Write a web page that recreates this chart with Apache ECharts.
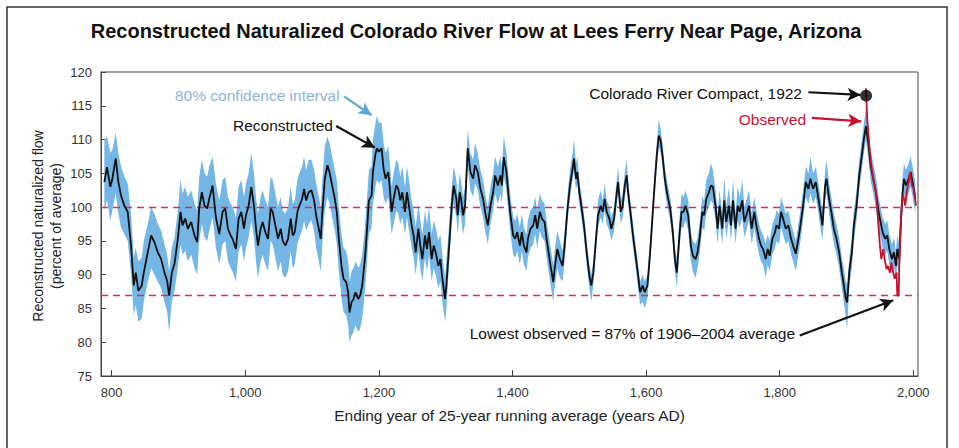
<!DOCTYPE html>
<html>
<head>
<meta charset="utf-8">
<script src="https://cdn.jsdelivr.net/npm/echarts@6/dist/echarts.min.js"></script>
<style>
  html, body { margin: 0; background: #fff; }
  #chart { width: 959px; height: 448px; }
</style>
</head>
<body>
<div id="chart"></div>
<script>
// [ending year, reconstructed %, 80% CI low, 80% CI high]
const reconstructed = [
  [789,103.7,99.5,110],[793,105.9,101,110.5],[798,103,98,108],[801,104.2,99.5,108.5],[806,107.2,102,111],
  [810,103.7,99,108],[814,101.7,97,106],[819,100.2,96,104.5],[824,99.3,95,103.5],[829,94.3,90,99],
  [833,88.4,84,92.5],[836,90.3,85.5,94],[840,87.6,83,92],[845,88.4,83.5,92.5],[848,90.3,86,95],
  [854,93.3,89,97.5],[859,95.8,91,100],[864,94.8,90,99],[869,93.3,89,97.5],[874,92.3,88,96.5],
  [879,90.3,86,94.5],[883,89.1,84.5,93],[886,86.9,81.5,90.5],[890,90.3,86,94],[894,91.6,87.5,95.5],
  [899,95.3,91,99.5],[903,99.3,94.5,104],[906,97.3,93,102],[910,98.3,93.5,103],[914,96.8,92,101.5],
  [919,97.8,93,102.5],[924,95.8,91,100.5],[928,94.8,90,99.5],[931,99.8,95,104.5],[935,102.2,97.5,107],
  [939,100.2,95.5,105],[943,99.8,95,104.5],[946,101.2,96.5,106],[951,103.2,98.5,107.5],[956,98.5,94,103.5],
  [961,96,91.5,101],[966,99.3,94.5,104],[970,99.8,95,104.5],[974,96.8,92,101.5],[978,95.8,91,100.5],
  [981,95.3,90.5,100],[986,93.8,89,98.5],[990,98.3,93.5,103],[994,99.3,94.5,104],[998,96.8,92,101.5],
  [1001,98.8,94,103.5],[1005,100.2,95.5,105],[1009,103,98,108],[1013,100.2,95.5,105],[1016,96.8,92,101.5],
  [1019,94.3,89.5,99],[1023,96.8,92,101.5],[1026,97.8,93,102.5],[1030,96.3,91.5,101],[1034,95.3,90.5,100],
  [1038,99.8,95,104.5],[1041,99.3,94.5,104],[1045,97.3,92.5,102],[1049,95.3,90.5,100],[1053,96.8,92,101.5],
  [1056,95,90,99.5],[1060,94.3,89.5,99],[1064,95.3,90.5,100],[1068,98.3,93.5,103],[1071,95.8,91,100.5],
  [1074,96.3,91.5,101],[1078,99.3,94.5,104],[1081,100.2,95.5,105],[1085,101.2,96.5,106],[1088,102.7,98,107.5],
  [1091,101,96.5,105.5],[1095,102.2,97.5,107],[1099,102.5,98,107],[1103,101,96.5,105.5],[1106,98.8,94,103.5],
  [1110,96.8,92,101.5],[1113,95.3,90.5,100],[1115,98.8,94,103.5],[1119,104.2,99.5,109],[1123,106.2,101.5,110.5],
  [1126,105.2,100.5,109.5],[1130,103.2,98.5,107.5],[1134,101.2,96.5,105.5],[1137,99.3,94.5,104],[1140,95.3,90.5,100],
  [1144,91.3,86.5,96],[1147,89.4,84.5,94],[1151,88.9,84,93.5],[1154,87.4,82.5,92],[1156,84.4,80,89],
  [1159,85.9,81,90.5],[1162,86.4,81.5,91],[1165,87.4,82.5,92],[1169,86.4,81.5,91],[1172,86.9,82,91.5],
  [1175,88.4,83.5,93],[1179,92.3,87.5,97],[1182,96.3,91.5,101],[1185,101,96,105.5],[1189,101.7,97,106],
  [1191,105.2,100.5,110],[1195,107.9,103,112.5],[1197,108.7,104,113.5],[1200,108.2,103.5,112.5],[1204,108.7,104,112.5],
  [1207,105.7,101.5,109.5],[1210,104.2,100.5,108],[1214,105.2,101.5,109],[1216,103.2,99.5,107],[1219,99.3,96,103],
  [1222,101.2,97.5,105],[1226,103.2,99.5,107],[1229,102.7,99,106.5],[1232,101,97.5,104.5],[1235,102.2,98.5,106],
  [1239,99.3,96,103],[1242,102.2,98.5,106],[1245,100.2,96.5,104],[1249,97.3,94,101],[1252,95.8,92.5,99.5],
  [1255,93.3,90,97],[1259,96.8,93.5,100.5],[1262,94.3,91,98],[1265,92.3,89,96],[1269,95.8,92.5,99.5],
  [1272,93.8,90.5,97.5],[1275,96.3,93,100],[1279,92.3,89,96],[1282,94.3,91,98],[1285,93.3,90,97],
  [1289,91.3,88,95],[1292,92.3,89,96],[1295,89.4,86,93],[1299,86.4,83,89.5],[1301,88.4,85,92],
  [1306,95.5,93,98.5],[1309,100.2,97.5,103],[1312,103.2,100.5,106],[1316,101.2,98.5,104],[1318,98.8,96,101.5],
  [1321,102.2,99.5,105],[1323,101.2,98.5,104],[1326,98.8,96,101.5],[1329,100.2,97.5,103],[1333,108.7,106,111.5],
  [1337,105.2,102.5,108],[1341,104.2,101.5,107],[1344,106.2,103.5,109.5],[1348,105.2,102.5,108],[1352,102.7,100,105.5],
  [1356,101.2,98.5,104],[1359,99.3,96.5,102],[1363,97.3,94.5,100],[1367,100.2,97.5,103],[1371,102.2,99.5,105],
  [1374,104.7,102,107.5],[1378,103.2,100.5,106],[1382,104.7,102,107.5],[1384,103.2,100.5,106],[1387,107.4,104.5,110.5],
  [1391,105.2,102.5,108],[1394,101.7,99,104.5],[1397,98.8,96,101.5],[1401,95.8,93,98.5],[1404,95.3,92.5,98],
  [1407,96.3,93.5,99],[1411,94.3,91.5,97],[1414,96.3,93.5,99],[1417,94.3,91.5,97],[1421,93.3,90.5,96],
  [1423,95.3,92.5,98],[1427,96.8,94,99.5],[1431,97.3,94.5,100],[1434,98.8,96,101.5],[1437,96.8,94,99.5],
  [1441,99.3,96.5,102],[1444,98.3,95.5,101],[1448,97.8,95,100.5],[1451,95.3,92.5,98],[1454,93.3,90.5,96],
  [1457,91.3,88.5,94],[1461,88.9,86,91.5],[1463,90.8,88,93.5],[1467,93.8,91,96.5],[1471,92.3,89.5,95],
  [1475,91.3,89,93.5],[1478,94.3,92,96.5],[1482,99.3,97.5,101.5],[1486,103.2,101.5,105.5],[1490,105.7,104,108],
  [1492,107.2,105.5,110],[1495,104.2,102.5,106.5],[1497,105.2,103.5,107.5],[1500,102.2,100.5,104],[1503,100.2,98.5,102],
  [1507,97.3,95.5,99],[1511,93.3,91.5,95],[1515,89.9,88,91.5],[1518,88.4,86,90],[1521,90.3,88.5,92],
  [1525,95.3,93.5,97],[1528,98.8,97,101],[1532,100.2,98.5,102.5],[1535,99.3,97.5,101],[1538,101.2,99.5,103.5],
  [1541,99.3,97.5,101],[1545,98.3,96.5,100],[1548,96.8,95,98.5],[1552,98.3,96.5,100],[1555,101.2,99.5,103],
  [1558,103.7,102,106],[1562,99.3,97.5,101],[1565,100.2,98.5,102],[1568,103.2,101.5,105],[1571,104.7,103,107],
  [1573,102.2,100.5,104],[1577,98.8,97,100.5],[1581,95.3,93.5,97],[1585,92.3,90.5,94],[1588,89.9,88,91.5],
  [1591,87.4,85.5,89],[1595,88.4,86,90],[1598,87.4,85,89],[1602,88.4,86.5,90],[1606,93.3,91.5,95],
  [1610,99.3,97.5,101],[1613,103.7,102,105.5],[1616,107.7,106,109.5],[1619,110.6,109,113],[1622,109.7,108,111.5],
  [1625,107.2,105.5,109],[1628,104.2,102.5,106],[1632,101.7,100,103.5],[1636,99.8,98,101.5],[1640,96.3,94.5,98],
  [1643,92.3,90.5,94],[1646,90.3,88,92.5],[1650,96,94,98.5],[1653,99.3,97,102],[1656,99.3,97,101.5],
  [1659,100.2,98,102.5],[1663,98.8,96.5,101],[1667,94.3,92,96.5],[1670,92.8,90.5,95],[1674,92.3,89.5,94.5],
  [1677,93.3,91,95.5],[1680,95.3,93,97.5],[1684,99.3,97,101.5],[1687,98.8,96.5,101],[1690,101.2,99,104],
  [1694,102.2,100,105],[1697,103.2,101,106.5],[1700,103,100.5,105.5],[1704,100.2,98,102.5],[1707,96.8,94.5,99],
  [1710,100.2,98,102.5],[1714,96.8,94.5,99],[1717,101,98.5,104.5],[1720,97.8,95.5,100],[1724,100.2,98,103],
  [1727,97.3,95,99.5],[1730,101,98.5,104],[1734,96.8,94.5,99],[1737,100.2,98,103],[1740,99.3,97,101.5],
  [1744,101,98.5,104],[1747,97.8,95.5,100],[1750,98.8,96.5,101],[1754,100.2,98,102.5],[1758,96.8,94.5,99],
  [1762,99.3,97,101.5],[1765,97.3,95,99.5],[1769,95.3,93,97.5],[1772,94.3,92,96.5],[1775,93.8,91.5,96],
  [1779,92.3,89.5,94.5],[1782,93.8,91.5,96],[1785,92.8,90.5,95],[1789,95.3,93,97.5],[1793,96.3,94,98.5],
  [1795,97.3,95,99.5],[1799,96.8,94.5,99],[1802,99.3,97,101.5],[1805,98.3,96,100.5],[1809,96.8,94.5,99],
  [1813,97.3,95,99.5],[1817,95.3,93,97.5],[1820,94.3,92,96.5],[1824,93.1,90.5,95],[1828,95.3,93,97.5],
  [1831,97.3,95,99.5],[1835,100.2,98,102.5],[1839,103.7,101.5,106],[1843,102.7,100.5,105],[1846,104.2,102,107.5],
  [1850,102.7,100.5,105],[1854,103.7,101.5,106],[1858,101.2,99,103.5],[1861,99.3,97,101.5],[1864,97.3,95,99.5],
  [1868,103.2,101,105.5],[1870,104.2,102,107],[1874,101.2,99,103.5],[1878,98.8,96.5,101],[1881,96.8,94.5,99],
  [1885,95.3,93,97.5],[1889,93.3,91,95.5],[1893,90.3,88,92.5],[1896,88.4,86,91],[1899,86.4,83.5,89],
  [1901,85.9,82,88.5],[1904,90.3,88,92.5],[1908,93.3,91,95.5],[1911,97.3,95,99.5],[1915,100.2,98,102.5],
  [1919,104.7,102.5,107],[1923,107.7,105.5,110],[1926,110.1,108,112.5],[1929,112,110,114.5],[1933,109.2,107,111.5],
  [1936,106.2,104,108.5],[1940,104.2,102,106.5],[1944,102.2,100,104.5],[1948,99.3,97,101.5],[1951,97.8,95.5,100],
  [1954,96.3,94,98.5],[1958,95.3,93,97.5],[1961,95.8,93.5,98],[1964,93.8,91.5,96],[1968,92.3,90,94.5],
  [1971,93.3,91,95.5],[1974,91.3,89,93.5],[1976,93.8,91.5,96],[1979,92.3,90,94.5],[1981,97.3,95,99.5],
  [1984,102.2,100,104.5],[1986,104.2,102,106.5],[1989,103.2,101,105.5],[1993,104.2,102,106.5],[1996,105.2,103,107.5],
  [1999,103.7,101.5,106],[2003,101.2,99,103.5]
];

// gauged record, 25-yr running average
const observed = [
  [1929,117.6],[1931,113.1],[1934,109.2],[1937,106.2],[1941,103.7],[1944,102.2],[1947,98.3],[1950,94.3],
  [1952,92.3],[1955,93.8],[1957,92.3],[1960,90.8],[1962,91.3],[1965,90.3],[1967,91.8],[1970,90.3],
  [1972,89.4],[1975,90.3],[1976,86.9],[1978,86.9],[1979,91.3],[1981,96.3],[1983,101.2],[1985,101.7],
  [1988,100.2],[1990,102.2],[1993,103.7],[1995,105.2],[1998,103.2],[2001,102.7],[2004,100.2]
];

const compactPoint = [1929.3, 116.5];
const referenceLevels = [100, 87];
const yearTicks = [800, 1000, 1200, 1400, 1600, 1800, 2000];

// annotation arrows: [from, to, colour]
const arrows = [
  [[1148, 116.4], [1189, 113.6], '#5ea7d8'],
  [[1136, 112.0], [1194, 108.8], '#111111'],
  [[1843, 117.0], [1921, 116.6], '#111111'],
  [[1848, 113.2], [1922, 112.7], '#c4122f'],
  [[1830, 81.0], [1970, 86.2], '#111111']
];

const FONT = '"Liberation Sans", Arial, sans-serif';
const BAND = '#74b6e5';
const RED = '#c4122f';

const chart = echarts.init(document.getElementById('chart'), null, { renderer: 'svg' });

const txt = (text, x, y, align, color, extra) => ({
  type: 'text', x, y, z: 100, silent: true,
  style: Object.assign({ text, fill: color || '#111', font: '15.5px ' + FONT,
    textAlign: align || 'left', textVerticalAlign: 'middle' }, extra || {})
});

chart.setOption({
  animation: false,
  grid: { left: 101, right: 41, top: 72, bottom: 72, show: true, borderColor: '#444', borderWidth: 1 },
  xAxis: {
    type: 'value', min: 784, max: 2007,
    axisLine: { lineStyle: { color: '#444' } },
    axisTick: { inside: true, length: 6, customValues: yearTicks, lineStyle: { color: '#444' } },
    axisLabel: { customValues: yearTicks, color: '#333', fontSize: 13, fontFamily: FONT, margin: 10,
      formatter: v => v.toLocaleString('en-US') },
    splitLine: { show: false },
    name: 'Ending year of 25-year running average (years AD)',
    nameLocation: 'middle', nameGap: 31,
    nameTextStyle: { color: '#222', fontSize: 15.5, fontFamily: FONT }
  },
  yAxis: {
    type: 'value', min: 75, max: 120, interval: 5,
    axisLine: { show: true, lineStyle: { color: '#444' } },
    axisTick: { inside: true, length: 5, lineStyle: { color: '#444' } },
    axisLabel: { color: '#333', fontSize: 13, fontFamily: FONT, margin: 9 },
    splitLine: { show: false }
  },
  graphic: [
    { type: 'rect', shape: { x: 7, y: 7, width: 940, height: 460 }, silent: true, z: 100,
      style: { fill: 'none', stroke: '#333', lineWidth: 1.5 } },
    txt('Reconstructed Naturalized Colorado River Flow at Lees Ferry Near Page, Arizona', 476, 31, 'center', '#111',
      { font: 'bold 20px ' + FONT }),
    { type: 'text', x: 47, y: 226, rotation: Math.PI / 2, silent: true, z: 100,
      style: { text: 'Reconstructed naturalized flow\n(percent of average)', fill: '#222', font: '14px ' + FONT,
        textAlign: 'center', textVerticalAlign: 'middle', lineHeight: 18 } },
    txt('80% confidence interval', 175, 95, 'left', '#8db4d4'),
    txt('Reconstructed', 233, 125, 'left', '#111'),
    txt('Colorado River Compact, 1922', 802, 93, 'right', '#111'),
    txt('Observed', 806, 119, 'right', RED),
    txt('Lowest observed = 87% of 1906\u20132004 average', 795, 333, 'right', '#111')
  ],
  series: [
    {
      // 80% confidence band as one polygon: upper edge forward, lower edge back
      type: 'custom', silent: true, z: 1,
      data: reconstructed.map(d => [d[0], d[2], d[3]]),
      encode: { x: 0, y: [1, 2] },
      renderItem: (params, api) => {
        if (params.dataIndex !== 0) return null;
        const upper = reconstructed.map(d => api.coord([d[0], d[3]]));
        const lower = reconstructed.slice().reverse().map(d => api.coord([d[0], d[2]]));
        return { type: 'polygon', shape: { points: upper.concat(lower) }, style: { fill: BAND } };
      }
    },
    {
      type: 'line', data: [], silent: true, z: 2,
      markLine: {
        silent: true, z: 2, symbol: ['none', 'none'], label: { show: false },
        lineStyle: { color: '#d62d62', type: [7, 5], width: 1.4 },
        data: referenceLevels.map(v => ({ yAxis: v }))
      }
    },
    {
      type: 'line', symbol: 'none', silent: true, z: 3,
      lineStyle: { color: '#111', width: 1.8 },
      data: reconstructed.map(d => [d[0], d[1]])
    },
    {
      type: 'line', symbol: 'none', silent: true, z: 4,
      lineStyle: { color: RED, width: 1.8 },
      data: observed
    },
    {
      type: 'scatter', symbolSize: 12, silent: true, z: 5,
      itemStyle: { color: '#000' },
      data: [compactPoint]
    },
    {
      type: 'line', data: [], silent: true, z: 6,
      markLine: {
        silent: true, z: 6, symbol: ['none', 'arrow'], symbolSize: [10, 13],
        label: { show: false },
        data: arrows.map(a => [
          { coord: a[0], lineStyle: { color: a[2], width: 2.2, type: 'solid' } },
          { coord: a[1], lineStyle: { color: a[2], width: 2.2, type: 'solid' } }
        ])
      }
    }
  ]
});
</script>
</body>
</html>
